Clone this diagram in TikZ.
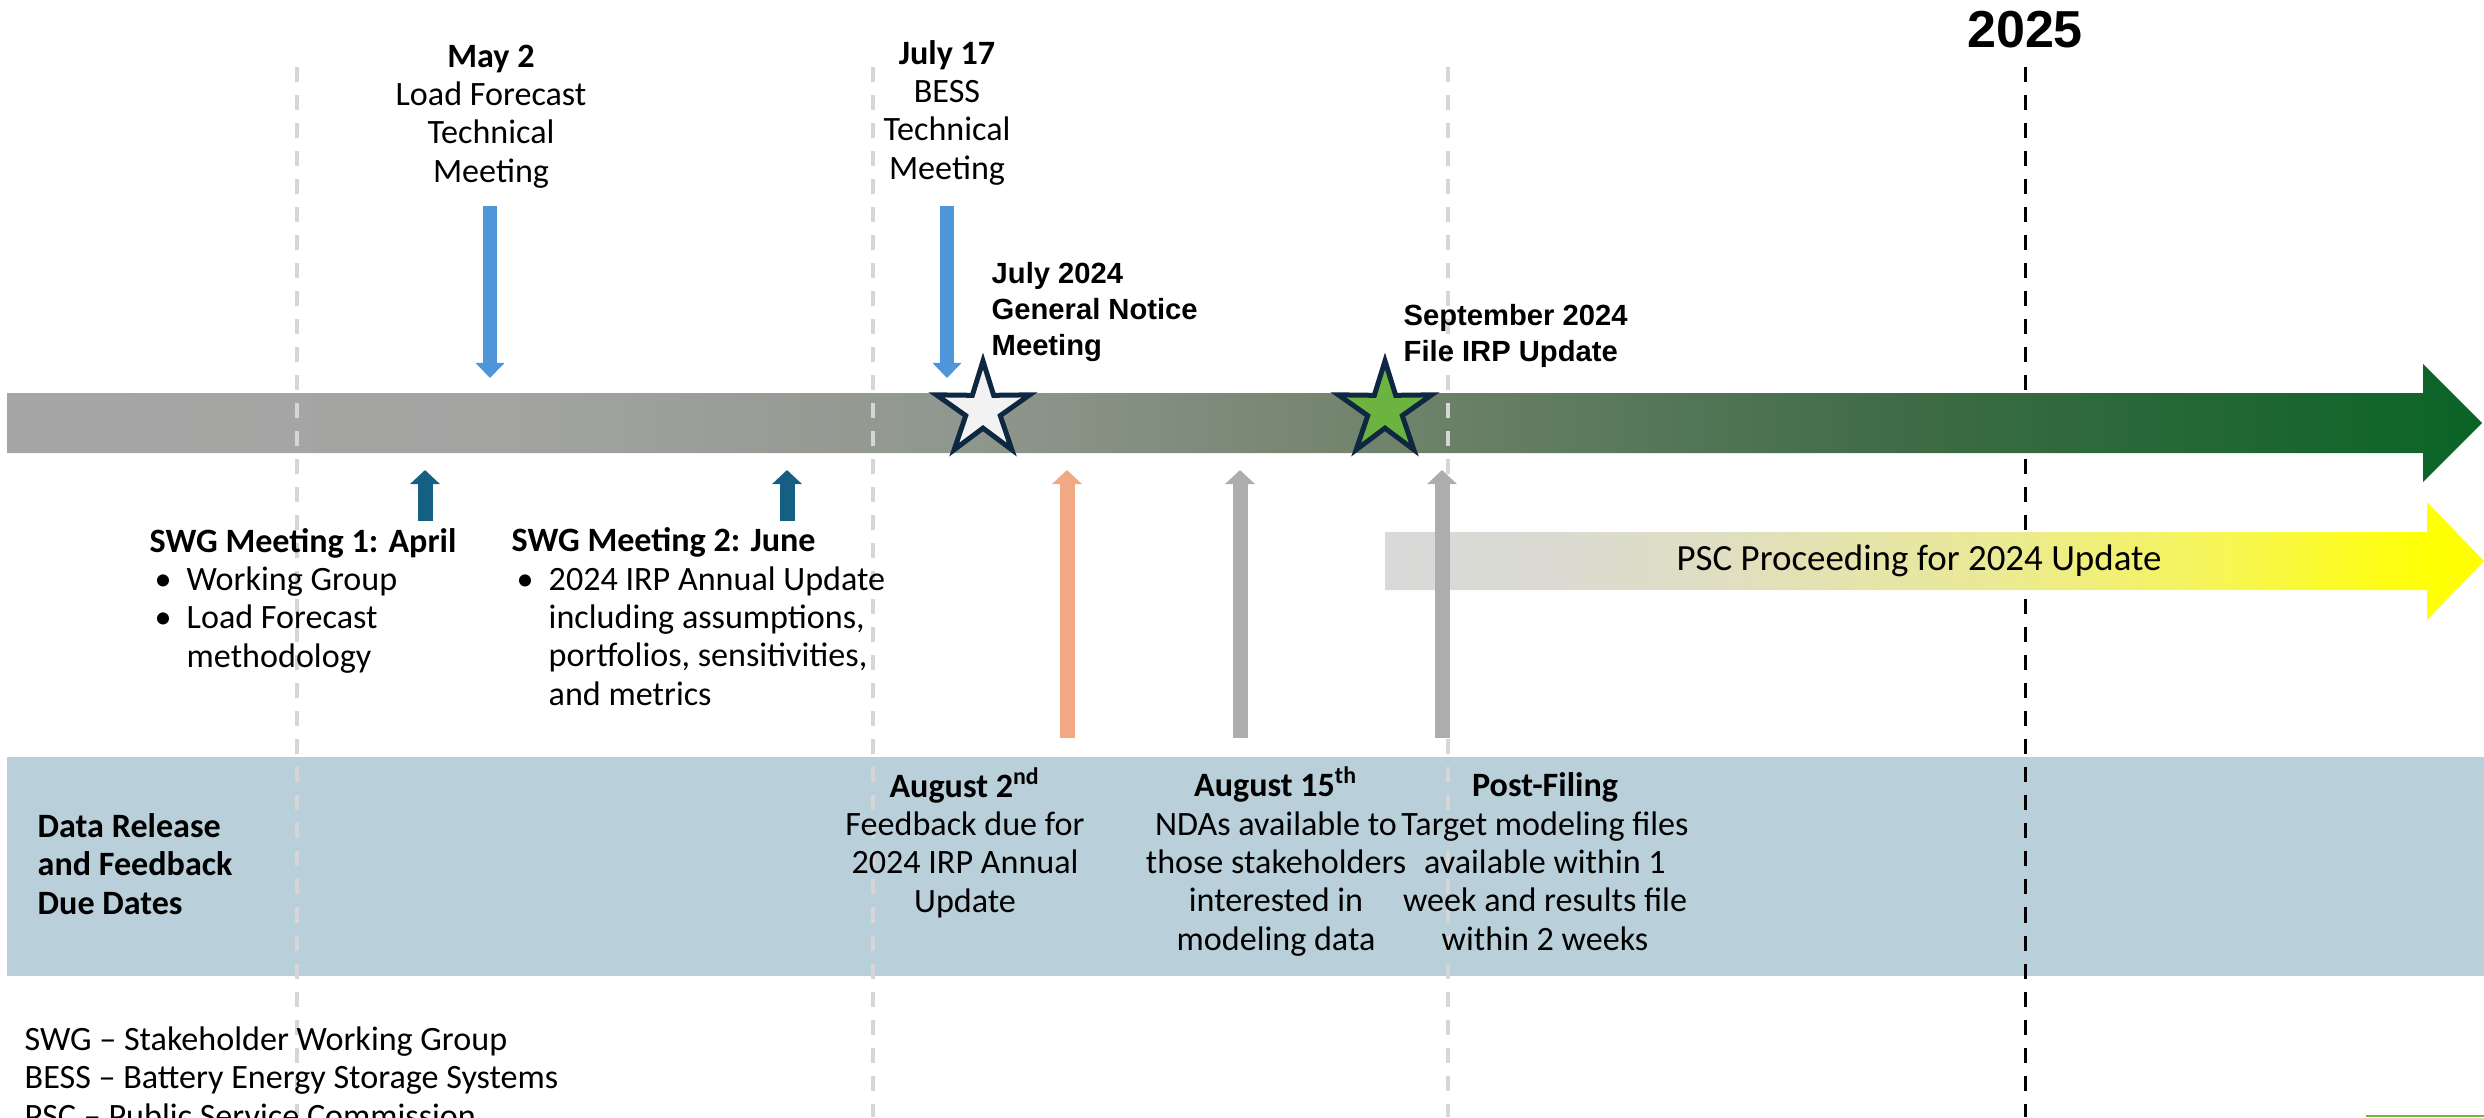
\documentclass[tikz,border=0pt]{standalone}
\usepackage{fontspec}
\setmainfont{Carlito}
\newfontfamily\arialfont{Liberation Sans}
\usetikzlibrary{arrows.meta}
\usetikzlibrary{shapes.geometric}
\usetikzlibrary{positioning}
\definecolor{bandblue}{HTML}{B9CFDA}
\definecolor{swgteal}{HTML}{156082}
\definecolor{mtgblue}{HTML}{4E95D9}
\definecolor{fbkorange}{HTML}{F1A983}
\definecolor{ndagray}{HTML}{ADADAD}
\definecolor{starnavy}{HTML}{0E2841}
\definecolor{stargreen}{HTML}{6DB33F}
\definecolor{starwhite}{HTML}{F2F2F2}
\definecolor{dashgray}{HTML}{D6D6D6}
\definecolor{edgegreen}{HTML}{6CBB3C}
\pgfdeclarehorizontalshading{barshade}{100bp}{
    color(0bp)=(rgb,255:red,166;green,166;blue,166);
    color(25bp)=(rgb,255:red,166;green,166;blue,166);
    color(35bp)=(rgb,255:red,163;green,164;blue,162);
    color(45bp)=(rgb,255:red,142;green,150;blue,140);
    color(53.5bp)=(rgb,255:red,110;green,129;blue,105);
    color(57bp)=(rgb,255:red,92;green,122;blue,95);
    color(63.5bp)=(rgb,255:red,62;green,107;blue,69);
    color(75bp)=(rgb,255:red,10;green,100;blue,38);
    color(100bp)=(rgb,255:red,10;green,100;blue,38)}
\pgfdeclarehorizontalshading{pscshade}{100bp}{
    color(0bp)=(rgb,255:red,217;green,217;blue,217);
    color(25bp)=(rgb,255:red,217;green,217;blue,217);
    color(32.5bp)=(rgb,255:red,218;green,218;blue,210);
    color(40bp)=(rgb,255:red,223;green,222;blue,194);
    color(52.5bp)=(rgb,255:red,234;green,233;blue,150);
    color(62.5bp)=(rgb,255:red,246;green,245;blue,90);
    color(72.5bp)=(rgb,255:red,255;green,255;blue,5);
    color(75bp)=(rgb,255:red,255;green,255;blue,0);
    color(100bp)=(rgb,255:red,255;green,255;blue,0)}
\tikzset{evtlabel/.style={font=\fontsize{9.7}{10.9}\selectfont, inner sep=0pt, align=center, anchor=base}}
\tikzset{swglabel/.style={font=\fontsize{9.7}{10.9}\selectfont, inner sep=0pt, align=left, anchor=base west}}
\tikzset{boldlabel/.style={font={\arialfont\bfseries\fontsize{8.3}{10.2}\selectfont}, inner sep=0pt, align=left, anchor=base west}}
\tikzset{dnarrow/.style={draw=mtgblue, line width=0.14cm, -{Triangle[width=0.28cm,length=0.15cm]}, shorten >=0.15cm}}
\tikzset{uparrow/.style={line width=0.15cm, -{Triangle[width=0.29cm,length=0.14cm]}, shorten >=0.17cm}}
\tikzset{gridline/.style={draw=dashgray, line width=0.04cm, dash pattern=on 0.15cm off 0.13cm}}
\tikzset{yearline/.style={draw=black, line width=0.03cm, dash pattern=on 0.15cm off 0.13cm}}
\tikzset{milestone/.style={star, star points=5, star point ratio=2.7, minimum size=0.98cm, inner sep=0pt, draw=starnavy, line width=0.05cm}}
\newcommand{\bul}{\hspace*{0.05cm}\makebox[0.32cm][l]{\textbullet}}
\newcommand{\nobul}{\hspace*{0.37cm}}

\begin{document}
\begin{tikzpicture}[x=0.01cm,y=-0.01cm]
    \useasboundingbox (0,0) rectangle (2484,1117);
    \clip (0,0) rectangle (2484,1117);

    \fill[bandblue] (7,757) rectangle (2484,976);
    \draw[yearline] (2025,67) -- (2025,1117);
    \shade[shading=barshade]
        (7,393) -- (2423,393) -- (2423,364) -- (2482,423) -- (2423,482)
        -- (2423,453) -- (7,453) -- cycle;
    \draw[gridline] (297,67) -- (297,1117);
    \draw[gridline] (873,67) -- (873,1117);
    \draw[gridline] (1448,67) -- (1448,1117);
    \shade[shading=pscshade]
        (1385,532) -- (2427,532) -- (2427,502) -- (2484,561) -- (2427,620)
        -- (2427,590) -- (1385,590) -- cycle;
    \draw[edgegreen, line width=0.02cm] (2366,1116) -- (2484,1116);

    \coordinate (bartop) at (0,393);
    \coordinate (barbot) at (0,453);

    \node[milestone, fill=starwhite] (gns) at (983,410) {};
    \node[milestone, fill=stargreen] (irs) at (1385,410) {};

    \node[font={\arialfont\bfseries\fontsize{14.8}{16}\selectfont}, inner sep=0pt, anchor=base] (yr) at (2025,47) {2025};

    \node[evtlabel] (may) at (491,182)
        {\textbf{May 2}\\Load Forecast\\Technical\\Meeting};
    \node[evtlabel] (jul) at (947,179)
        {\textbf{July 17}\\BESS\\Technical\\Meeting};
    \node[boldlabel] (gnm) at (991,355)
        {July 2024\\General Notice\\Meeting};
    \node[boldlabel] (sep) at (1403,361)
        {September 2024\\File IRP Update};

    \node[swglabel] (sw1) at (149,667)
        {\textbf{SWG Meeting 1: April}\\
            \bul Working Group\\
            \bul Load Forecast\\
            \nobul methodology};
    \node[swglabel] (sw2) at (511,705)
        {\textbf{SWG Meeting 2: June}\\
            \bul 2024 IRP Annual Update\\
            \nobul including assumptions,\\
            \nobul portfolios, sensitivities,\\
            \nobul and metrics};

    \node[font=\fontsize{10.5}{12}\selectfont, inner sep=0pt] (psc) at (1919,561)
        {PSC Proceeding for 2024 Update};

    \node[swglabel] (drf) at (37,914)
        {\textbf{Data Release}\\\textbf{and Feedback}\\\textbf{Due Dates}};
    \node[evtlabel] (au2) at (965,912)
        {\textbf{August 2\textsuperscript{nd}}\\Feedback due for\\2024 IRP Annual\\Update};
    \node[evtlabel] (a15) at (1276,950)
        {\textbf{August 15\textsuperscript{th}}\\NDAs available to\\those stakeholders\\interested in\\modeling data};
    \node[evtlabel] (pfl) at (1545,950)
        {\textbf{Post-Filing}\\Target modeling files\\available within 1\\week and results file\\within 2 weeks};

    \node[swglabel] (leg) at (24,1127)
        {SWG \textendash{} Stakeholder Working Group\\
            BESS \textendash{} Battery Energy Storage Systems\\
            PSC \textendash{} Public Service Commission};

    \coordinate (mayarr) at (490,206);
    \coordinate (jularr) at (947,206);
    \coordinate (sw1arr) at (425,521);
    \coordinate (sw2arr) at (787,521);
    \coordinate (au2arr) at (1067,738);
    \coordinate (a15arr) at (1240,738);
    \coordinate (pflarr) at (1442,738);

    \draw[dnarrow] (mayarr) -- (mayarr |- bartop);
    \draw[dnarrow] (jularr) -- (jularr |- bartop);
    \draw[uparrow, swgteal] (sw1arr) -- (sw1arr |- barbot);
    \draw[uparrow, swgteal] (sw2arr) -- (sw2arr |- barbot);
    \draw[uparrow, fbkorange] (au2arr) -- (au2arr |- barbot);
    \draw[uparrow, ndagray] (a15arr) -- (a15arr |- barbot);
    \draw[uparrow, ndagray] (pflarr) -- (pflarr |- barbot);
\end{tikzpicture}
\end{document}
